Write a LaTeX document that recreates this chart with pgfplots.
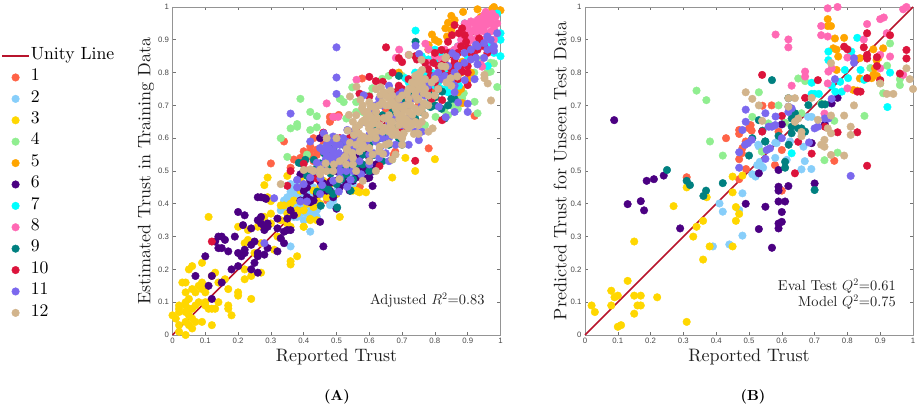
\documentclass[border=0pt]{standalone}
\usepackage{pgfplots}
\usepackage{fontspec}
\pgfplotsset{compat=1.18}
\setmainfont{lmroman10-regular.otf}[BoldFont=lmroman10-bold.otf,ItalicFont=lmroman10-italic.otf]
\newfontfamily\ticksf{Liberation Sans}
\definecolor{c1}{HTML}{FF6347}
\definecolor{c2}{HTML}{87CEFA}
\definecolor{c3}{HTML}{FFD700}
\definecolor{c4}{HTML}{90EE90}
\definecolor{c5}{HTML}{FFA500}
\definecolor{c6}{HTML}{4B0082}
\definecolor{c7}{HTML}{00FFFF}
\definecolor{c8}{HTML}{FF69B4}
\definecolor{c9}{HTML}{008080}
\definecolor{c10}{HTML}{DC143C}
\definecolor{c11}{HTML}{7B68EE}
\definecolor{c12}{HTML}{D2B48C}
\definecolor{unity}{HTML}{B8142C}
\pgfplotsset{
  s/.style={only marks,mark=*,mark size=3.8pt,color=#1,mark options={fill=#1,draw=none}},
  panel/.style={
    scale only axis,width=328pt,height=328pt,anchor=south west,
    xmin=0,xmax=1,ymin=0,ymax=1,clip=false,
    xtick={0,0.1,...,1},ytick={0,0.1,...,1},
    tick align=inside,major tick length=3.3pt,
    axis line style={black!42,line width=0.8pt},
    tick style={black!55,line width=0.6pt},
    /pgf/number format/assume math mode=true,
    tick label style={font=\ticksf\fontsize{7.8}{8}\selectfont,text=black!72},
    label style={font=\fontsize{18}{20}\selectfont,text=black!88},
    xlabel={Reported Trust},
    xlabel style={at={(axis description cs:0.5,-0.032)},anchor=north},
  }
}
\begin{document}
\begin{tikzpicture}
\path[use as bounding box] (0,0) rectangle (920pt,409pt);
\begin{axis}[panel,at={(172.5pt,74pt)},
  ylabel={Estimated Trust in Training Data},
  ylabel style={at={(axis description cs:-0.045,0.5)},anchor=south},
  legend cell align=left,
  legend image code/.code={\draw[mark repeat=2,mark phase=2,#1] plot coordinates {(0pt,0pt)(13.5pt,0pt)(27pt,0pt)};},
  legend style={at={(axis description cs:-0.522,0.883)},anchor=north west,draw=none,fill=none,
    font=\fontsize{17.7}{20}\selectfont,inner sep=0pt,outer sep=0pt,row sep=0pt,
    nodes={inner sep=1pt,text height=13pt,text depth=6.4pt}},
]
\addplot[unity,line width=1.6pt,no marks] coordinates {(0,0)(1,1)};
\addlegendentry{Unity Line}
\addplot[s=c1] coordinates {(.34,.59)(.30,.523)(.37,.535)(.36,.51)(.42,.559)(.42,.545)(.44,.549)(.48,.665)(.48,.65)(.495,.665)(.46,.615)(.921,.668)(.781,.569)(.679,.559)(.578,.782)(.507,.671)(.482,.66)(.472,.41)(.571,.452)(.674,.549)(.43,.53)(.45,.52)(.50,.6)(.53,.55)(.56,.6)(.62,.66)(.65,.69)(.7,.7)(.75,.7)(.8,.75)(.39,.48)(.41,.5)(.47,.5)(.52,.5)(.58,.52)(.6,.55)(.39,.54)(.4,.56)(.42,.575)(.44,.565)(.46,.58)(.48,.56)(.43,.6)};
\addlegendentry{1}
\addplot[s=c2] coordinates {(.36,.437)(.37,.42)(.355,.40)(.365,.38)(.38,.405)(.39,.37)(.405,.396)(.42,.38)(.435,.396)(.44,.38)(.38,.443)(.36,.27)(.42,.315)(.48,.396)(.61,.498)(.37,.45)(.39,.46)(.40,.42)(.42,.43)(.44,.41)(.45,.44)(.38,.36)(.40,.35)(.35,.42)(.345,.39)(.47,.42)(.5,.43)(.52,.46)(.55,.46)(.48,.5)(.58,.5)(.6,.5)(.33,.38)(.34,.41)(.36,.39)(.375,.39)(.39,.4)(.41,.37)(.43,.37)(.44,.36)(.37,.36)(.38,.43)(.36,.46)(.38,.47)(.4,.45)(.43,.45)(.46,.43)(.49,.41)(.5,.44)(.54,.48)(.56,.49)};
\addlegendentry{2}
\addplot[s=c3] coordinates {(0,.06)(.01,.05)(.02,.09)(.02,.08)(.02,.07)(.02,.03)(.02,.01)(.03,.16)(.04,.16)(.04,.13)(.04,.10)(.04,.09)(.04,.07)(.04,.04)(.04,0)(.05,.11)(.05,.08)(.05,.06)(.05,.03)(.06,.08)(.06,.05)(.06,.02)(.06,.14)(.05,.2)(.06,.21)(.07,.13)(.07,.09)(.07,.04)(.08,.15)(.08,.10)(.09,.22)(.09,.16)(.09,.14)(.09,.04)(.10,.13)(.10,.1)(.1,.09)(.11,.08)(.11,.36)(.12,.08)(.12,.03)(.12,.18)(.13,.19)(.13,.08)(.14,.16)(.14,.10)(.16,.17)(.17,.14)(.17,.08)(.17,.09)(.18,.06)(.2,.33)(.2,.12)(.2,.13)(.22,.20)(.22,.17)(.22,.28)(.23,.29)(.23,.32)(.24,.11)(.24,.18)(.25,.25)(.26,.33)(.27,.19)(.27,.28)(.28,.36)(.29,.42)(.3,.34)(.3,.37)(.31,.26)(.32,.3)(.33,.35)(.33,.395)(.34,.395)(.35,.34)(.36,.225)(.36,.215)(.36,.33)(.38,.24)(.38,.37)(.4,.33)(.39,.44)(.41,.4)(.42,.35)(.43,.44)(.44,.35)(.44,.42)(.46,.47)(.47,.42)(.48,.46)(.5,.43)(.51,.36)(.55,.44)(.56,.44)(.57,.435)(.59,.435)(.40,.46)(.39,.475)(.44,.48)(.45,.45)(.36,.4)(.35,.485)(.29,.48)(.28,.457)(.30,.408)(.40,.38)(.38,.38)(.42,.354)(.40,.33)(.67,.48)(.74,.50)(.80,.536)(.71,.54)(.37,.41)(.35,.37)(.43,.39)(.45,.40)};
\addlegendentry{3}
\addplot[s=c4] coordinates {(.39,.72)(.42,.68)(.44,.667)(.38,.643)(.38,.635)(.36,.63)(.42,.625)(.44,.633)(.33,.60)(.35,.543)(.51,.72)(.639,.781)(.659,.79)(.69,.791)(.548,.755)(.609,.752)(.512,.72)(.522,.71)(.99,.756)(.98,.828)(.97,.803)(.93,.676)(.921,.711)(.888,.737)(.883,.722)(.873,.707)(.828,.686)(.802,.665)(.99,.92)(.85,.70)(.48,.6)(.53,.66)(.58,.68)(.67,.535)(.56,.71)(.5,.58)(.6,.73)(.7,.79)(.87,.69)(.88,.72)(.84,.67)(.92,.8)(.96,.8)(.94,.84)(.97,.83)(.46,.57)(.41,.55)(.56,.68)(.62,.75)(.77,.64)};
\addlegendentry{4}
\addplot[s=c5] coordinates {(1,.99)(.93,.993)(.886,.985)(.85,.973)(.84,.952)(.832,.935)(.791,.916)(.811,.894)(.781,.884)(.837,.91)(.884,.833)(.884,.707)(.85,.93)(.853,.859)(.87,.82)(.90,.86)(.69,.80)(.91,.8)(.82,.85)(.8,.83)(.88,.75)(.86,.76)(.88,.8)(.9,.78)(.84,.86)(.78,.87)(.8,.9)(.86,.96)(.9,.88)(.94,.97)(.98,1)(.975,.995)(.87,.74)};
\addlegendentry{5}
\addplot[s=c6] coordinates {(.07,.18)(.10,.24)(.11,.15)(.12,.18)(.12,.11)(.15,.16)(.14,.30)(.15,.30)(.16,.29)(.14,.265)(.15,.265)(.13,.285)(.17,.255)(.19,.30)(.20,.375)(.22,.365)(.215,.335)(.20,.25)(.21,.24)(.22,.25)(.22,.26)(.20,.21)(.18,.20)(.24,.325)(.24,.275)(.25,.285)(.24,.2)(.25,.22)(.26,.19)(.26,.25)(.26,.24)(.26,.42)(.27,.42)(.28,.418)(.285,.415)(.26,.35)(.27,.36)(.27,.34)(.28,.33)(.28,.32)(.29,.34)(.29,.33)(.29,.265)(.28,.245)(.32,.355)(.32,.325)(.32,.255)(.33,.295)(.34,.28)(.34,.315)(.35,.32)(.36,.32)(.35,.355)(.36,.38)(.37,.365)(.45,.345)(.46,.27)(.61,.395)(.61,.454)(.5,.385)(.39,.41)(.41,.42)(.42,.405)(.43,.41)(.41,.45)(.44,.49)(.42,.47)(.39,.49)(.40,.44)(.42,.412)(.45,.468)(.48,.463)(.46,.463)(.583,.478)(.594,.478)(.563,.513)(.558,.498)(.59,.515)(.51,.45)(.53,.46)(.5,.5)(.52,.53)(.55,.535)(.57,.54)(.45,.6)(.46,.61)(.54,.44)(.49,.42)(.47,.44)(.44,.43)(.46,.44)(.48,.44)(.5,.47)(.52,.48)(.53,.5)(.55,.47)(.56,.48)(.58,.5)(.6,.48)(.61,.5)(.54,.52)(.5,.52)(.48,.5)(.62,.52)(.47,.52)(.51,.54)(.56,.55)(.59,.56)(.6,.54)};
\addlegendentry{6}
\addplot[s=c7] coordinates {(.741,.928)(1,.92)(1,.90)(1,.85)(.961,.82)(.99,.98)(.891,.95)(.822,.857)(.76,.85)(.71,.783)(.868,.79)(.873,.76)(.74,.8)(.81,.77)(.84,.74)(.78,.84)(.8,.87)(.83,.8)(.79,.8)(.81,.83)(.82,.75)(.84,.76)(.86,.82)(.74,.78)(.72,.77)(.77,.79)(.8,.76)(.87,.88)(.9,.85)(.97,.88)(.98,.86)};
\addlegendentry{7}
\addplot[s=c8] coordinates {(.891,.95)(.891,.935)(.91,.956)(.934,.963)(.944,.95)(.96,.973)(.97,.968)(.96,.947)(.94,.942)(.92,.93)(.91,.925)(.98,.935)(.97,.925)(.95,.925)(.93,.92)(.96,.908)(.94,.90)(.98,.90)(.92,.90)(.90,.89)(.87,.88)(.853,.865)(.84,.86)(.691,.87)(.681,.845)(.72,.854)(.771,.888)(.781,.871)(.561,.778)(.47,.706)(.49,.665)(.505,.665)(.944,.818)(.94,.825)(.95,.94)(.93,.94)(.95,.96)(.965,.96)(.905,.915)(.975,.95)(.935,.93)(.89,.91)(.93,.96)(.95,.975)(.975,.98)(.985,.97)(.99,.95)(.955,.985)(.9,.94)(.92,.95)(.91,.9)(.88,.9)(.86,.87)(.83,.87)(.82,.84)(.8,.85)(.78,.83)};
\addlegendentry{8}
\addplot[s=c9] coordinates {(.395,.523)(.405,.534)(.385,.525)(.431,.534)(.462,.554)(.45,.523)(.41,.485)(.441,.437)(.452,.394)(.502,.389)(.49,.43)(.476,.443)(.482,.492)(.512,.508)(.543,.508)(.551,.475)(.515,.475)(.543,.44)(.46,.45)(.741,.894)(.69,.79)(.69,.752)(.822,.742)(.802,.725)(.787,.695)(.785,.724)(.85,.72)(.614,.549)(.62,.64)(.66,.62)(.68,.63)(.7,.58)(.65,.6)(.73,.66)(.78,.74)(.8,.7)(.83,.66)(.55,.56)(.58,.52)(.6,.5)(.52,.49)(.64,.53)(.69,.69)(.75,.74)(.42,.5)(.44,.51)(.46,.52)(.48,.52)(.5,.53)(.47,.55)(.49,.57)(.52,.58)(.54,.6)(.5,.46)(.53,.49)(.56,.52)(.58,.55)(.6,.58)(.63,.6)(.66,.58)(.69,.6)(.71,.63)(.74,.66)(.76,.68)(.78,.7)(.82,.69)(.84,.7)(.72,.74)(.7,.72)(.67,.68)(.64,.67)(.62,.62)(.86,.72)};
\addlegendentry{9}
\addplot[s=c10] coordinates {(.12,.285)(.651,.877)(.69,.844)(.70,.832)(.671,.80)(.60,.787)(.62,.774)(.641,.772)(.86,.945)(.852,.914)(.873,.92)(.883,.935)(.891,.914)(.84,.894)(.82,.869)(.74,.85)(.745,.84)(.795,.83)(.81,.82)(.825,.825)(.895,.894)(.90,.874)(.935,.904)(.94,.89)(.88,.88)(.87,.86)(.883,.803)(.90,.762)(.822,.716)(.822,.655)(.74,.531)(.631,.515)(.76,.772)(.787,.79)(.78,.75)(.60,.727)(.57,.736)(.67,.71)(.66,.70)(.36,.50)(.35,.455)(.40,.522)(.44,.477)(.46,.617)(.51,.60)(.69,.76)(.72,.72)(.76,.7)(.79,.72)(.64,.66)(.7,.63)(.86,.83)(.9,.82)(.92,.85)(.96,.86)(.58,.6)(.54,.6)(.56,.63)(.6,.64)(.62,.68)(.64,.7)(.66,.73)(.68,.74)(.7,.75)(.72,.78)(.74,.75)(.76,.75)(.8,.77)(.82,.8)(.84,.79)(.83,.83)(.85,.81)(.86,.84)(.88,.82)(.87,.78)(.9,.8)(.91,.86)(.93,.87)(.95,.88)(.85,.77)(.78,.81)(.77,.83)(.8,.86)(.84,.86)(.81,.75)(.66,.65)};
\addlegendentry{10}
\addplot[s=c11] coordinates {(.50,.877)(.50,.785)(.50,.735)(.36,.675)(.42,.59)(.49,.605)(.38,.45)(.31,.417)(.28,.28)(.741,.882)(.752,.857)(.853,.859)(.865,.85)(.89,.86)(.925,.885)(.96,.91)(.99,.92)(.96,.87)(.98,.88)(.98,.867)(.95,.845)(.925,.845)(.91,.84)(.93,.825)(.86,.80)(.86,.79)(.891,.777)(.921,.78)(.86,.76)(.86,.74)(.90,.705)(.86,.68)(.90,.68)(.871,.709)(.833,.664)(.812,.696)(.751,.594)(.69,.706)(.69,.732)(.63,.72)(.583,.731)(.685,.727)(.70,.74)(.461,.615)(.477,.569)(.497,.579)(.51,.58)(.47,.55)(.487,.544)(.507,.555)(.533,.56)(.594,.574)(.614,.554)(.65,.554)(.632,.57)(.451,.478)(.456,.457)(.51,.5)(.543,.473)(.507,.437)(.533,.452)(.39,.407)(.41,.407)(.38,.473)(.467,.535)(.44,.525)(.533,.625)(.548,.564)(.56,.564)(.573,.59)(.584,.65)(.5,.53)(.52,.6)(.55,.62)(.58,.6)(.6,.61)(.62,.59)(.66,.6)(.68,.58)(.7,.64)(.72,.66)(.76,.7)(.78,.76)(.82,.78)(.84,.82)(.8,.79)(.74,.76)(.7,.66)(.76,.62)(.74,.62)(.72,.58)(.66,.53)(.63,.54)(.6,.52)(.575,.49)(.54,.54)(.46,.52)(.48,.53)(.49,.56)(.5,.54)(.51,.52)(.52,.545)(.53,.57)(.54,.58)(.55,.59)(.56,.6)(.46,.56)(.47,.58)(.45,.57)(.48,.59)(.5,.6)(.53,.59)(.55,.56)(.57,.56)(.59,.59)(.61,.62)(.63,.62)(.64,.6)(.66,.65)(.68,.66)(.7,.69)(.72,.7)(.73,.72)(.75,.74)(.77,.73)(.79,.77)(.81,.8)(.83,.79)(.85,.77)(.87,.82)(.89,.83)(.91,.87)(.93,.88)(.95,.89)(.97,.9)(.62,.7)(.6,.68)(.64,.7)(.66,.76)(.44,.5)(.42,.48)(.4,.46)(.45,.43)(.49,.47)(.51,.48)(.53,.5)(.55,.5)(.57,.53)(.6,.55)};
\addlegendentry{11}
\addplot[s=c12] coordinates {(.584,.681)(.578,.691)(.604,.696)(.615,.696)(.634,.732)(.645,.74)(.659,.722)(.665,.745)(.685,.676)(.705,.686)(.715,.737)(.695,.696)(.726,.701)(.741,.767)(.751,.778)(.761,.762)(.766,.737)(.746,.793)(.761,.808)(.741,.742)(.746,.717)(.766,.707)(.731,.671)(.711,.659)(.691,.659)(.665,.649)(.644,.661)(.624,.661)(.604,.64)(.615,.645)(.584,.654)(.553,.61)(.568,.615)(.558,.63)(.533,.564)(.58,.605)(.599,.63)(.644,.632)(.665,.64)(.693,.607)(.705,.615)(.72,.63)(.746,.615)(.793,.63)(.541,.727)(.561,.757)(.832,.818)(.848,.783)(.834,.847)(.868,.788)(.33,.46)(.451,.505)(.40,.503)(.42,.505)(.467,.523)(.492,.52)(.509,.475)(.523,.539)(.531,.567)(.541,.586)(.573,.594)(.59,.6)(.612,.615)(.632,.574)(.642,.552)(.66,.584)(.67,.61)(.534,.623)(.527,.544)(.548,.555)(.58,.569)(.578,.65)(.594,.68)(.594,.645)(.614,.615)(.62,.62)(.649,.63)(.67,.63)(.68,.61)(.70,.606)(.736,.613)(.75,.613)(.67,.535)(.538,.671)(.573,.717)(.62,.75)(.635,.755)(.65,.73)(.67,.73)(.721,.854)(.74,.79)(.755,.8)(.759,.839)(.832,.844)(.835,.77)(.85,.76)(.951,.793)(.951,.783)(.961,.767)(.971,.715)(.72,.68)(.74,.69)(.75,.68)(.7,.67)(.68,.69)(.66,.67)(.72,.72)(.73,.75)(.75,.72)(.76,.69)(.78,.7)(.8,.73)(.81,.75)(.77,.78)(.69,.64)(.65,.66)(.61,.66)(.63,.64)(.605,.62)(.56,.58)(.55,.52)(.6,.57)(.56,.5)(.58,.47)(.62,.5)(.5,.6)(.47,.6)(.73,.64)(.59,.66)(.6,.67)(.62,.68)(.63,.7)(.64,.71)(.66,.7)(.67,.71)(.68,.7)(.69,.72)(.7,.73)(.71,.7)(.72,.75)(.73,.77)(.74,.73)(.75,.75)(.76,.78)(.77,.75)(.78,.73)(.79,.77)(.8,.78)(.82,.82)(.7,.65)(.71,.64)(.72,.65)(.74,.65)(.75,.64)(.67,.65)(.68,.62)(.66,.62)(.64,.62)(.62,.6)(.6,.6)(.58,.58)(.57,.56)(.55,.54)(.53,.52)(.51,.53)(.49,.5)(.47,.5)(.45,.49)(.43,.5)(.6,.53)(.61,.55)(.63,.56)(.68,.55)(.65,.58)(.7,.58)(.7,.6)(.78,.62)(.76,.65)(.77,.67)(.65,.7)(.55,.65)(.57,.64)(.56,.67)(.58,.7)(.6,.71)};
\addlegendentry{12}
\node[anchor=east,font=\fontsize{14.4}{16}\selectfont,text=black!88] at (axis cs:0.962,0.105) {Adjusted $R^2$=0.83};
\end{axis}
\begin{axis}[panel,at={(585pt,74pt)},
  ylabel={Predicted Trust for Unseen Test Data},
  ylabel style={at={(axis description cs:-0.045,0.5)},anchor=south},
]
\addplot[unity,line width=1.6pt,no marks] coordinates {(0,0)(1,1)};
\addplot[s=c1] coordinates {(.31,.481)(.43,.60)(.47,.625)(.47,.613)(.505,.64)(.50,.63)(.508,.623)(.478,.554)(.47,.536)(.491,.506)(.47,.475)(.579,.518)(.60,.564)(.59,.62)(.541,.699)(.569,.70)(.60,.44)(.76,.531)(.49,.59)(.48,.57)};
\addplot[s=c2] coordinates {(.41,.401)(.42,.376)(.48,.432)(.47,.381)(.48,.303)(.44,.276)(.39,.27)(.52,.483)(.525,.518)(.54,.513)(.533,.528)(.543,.51)(.518,.487)(.58,.54)(.615,.534)(.66,.505)(.67,.53)(.69,.506)(.528,.58)(.58,.586)(.53,.575)(.68,.665)(.691,.665)(.584,.585)(.666,.574)(.625,.59)(.51,.49)};
\addplot[s=c3] coordinates {(.02,.09)(.03,.07)(.08,.135)(.08,.09)(.09,.115)(.10,.12)(.10,.025)(.11,.03)(.13,.165)(.15,.285)(.15,.12)(.15,.065)(.16,.09)(.17,.12)(.17,.09)(.22,.115)(.27,.393)(.31,.04)(.31,.45)(.33,.30)(.34,.33)(.36,.348)(.36,.23)(.371,.42)(.38,.27)(.45,.27)(.45,.435)(.46,.39)(.46,.348)(.47,.369)(.45,.483)(.48,.486)};
\addplot[s=c4] coordinates {(.34,.745)(.37,.716)(.381,.59)(.42,.547)(.53,.74)(.59,.70)(.51,.665)(.559,.645)(.539,.559)(.61,.647)(.65,.782)(.671,.774)(.66,.676)(.76,.653)(.73,.533)(.77,.556)(.852,.668)(.87,.814)(.921,.821)(.96,.78)(.96,.762)(.909,.737)(.90,.767)(.93,.889)(.72,.706)};
\addplot[s=c5] coordinates {(.74,.963)(.74,.942)(.75,.942)(.762,.904)(.79,.906)(.757,.874)(.767,.87)(.772,.849)(.767,.808)(.838,.844)(.879,.871)(.909,.874)(.889,.838)(.884,.813)(.879,.793)(.86,.783)(.874,.783)(.89,.79)(.838,.782)(.818,.747)(.895,.845)(.83,.745)};
\addplot[s=c6] coordinates {(.089,.655)(.188,.47)(.21,.475)(.24,.486)(.13,.399)(.17,.408)(.18,.38)(.29,.325)(.49,.40)(.53,.493)(.59,.503)(.59,.452)(.59,.44)(.62,.454)(.59,.407)(.61,.407)(.60,.642)(.70,.462)(.53,.323)(.55,.391)(.57,.266)(.60,.375)(.59,.34)(.60,.345)(.59,.325)(.691,.585)(.752,.706)(.77,.723)(.731,.642)};
\addplot[s=c7] coordinates {(.742,.864)(.742,.838)(.83,.906)(.812,.864)(.792,.808)(.802,.783)(.84,.808)(.851,.778)(.93,.80)(.922,.695)(.691,.769)(.691,.735)(.70,.735)(.713,.735)(.778,.772)(.783,.742)(.763,.742)(.752,.76)(.63,.554)};
\addplot[s=c8] coordinates {(.74,.996)(.77,1)(.72,.942)(.72,.914)(.74,.91)(.581,.916)(.62,.901)(.62,.877)(.671,.803)(.671,.788)(.63,.76)(.742,.803)(.752,.813)(.74,.767)(.80,.846)(.80,.752)(.85,.901)(.86,.948)(.90,.963)(.911,.968)(.97,.993)(.98,1)(.92,.92)(.90,.854)(.93,.849)(.90,.813)(.97,.793)(.73,.675)};
\addplot[s=c9] coordinates {(.25,.503)(.31,.47)(.32,.457)(.369,.44)(.361,.424)(.42,.463)(.50,.547)(.55,.59)(.541,.623)(.53,.655)(.59,.607)(.621,.58)(.63,.615)(.63,.635)(.61,.528)(.61,.51)(.70,.442)(.57,.777)(.62,.722)(.681,.701)(.722,.703)(.732,.703)(.64,.676)(.63,.66)(.549,.59)(.671,.62)(.65,.63)(.66,.63)(.51,.6)};
\addplot[s=c10] coordinates {(.54,.793)(.71,.777)(.671,.723)(.86,.92)(.93,.914)(.85,.877)(.79,.879)(.80,.871)(.86,.854)(.86,.843)(.89,.847)(.98,.869)(.98,.843)(.89,.82)(.96,.797)(.90,.777)(.86,.783)(.83,.742)(.84,.742)(.77,.618)(.83,.618)(.86,.516)(.691,.553)(.65,.589)(.60,.668)(.64,.493)(.731,.635)(.54,.62)};
\addplot[s=c11] coordinates {(.49,.687)(.55,.676)(.49,.65)(.48,.625)(.581,.666)(.62,.696)(.63,.691)(.62,.68)(.56,.635)(.58,.64)(.57,.635)(.497,.585)(.508,.595)(.488,.58)(.47,.557)(.47,.51)(.55,.537)(.554,.564)(.564,.569)(.60,.60)(.683,.587)(.70,.63)(.71,.635)(.742,.66)(.731,.66)(.762,.78)(.82,.844)(.82,.83)(.752,.72)(.81,.485)};
\addplot[s=c12] coordinates {(.49,.74)(.51,.72)(.53,.70)(.62,.722)(.64,.722)(.691,.723)(.75,.829)(.98,.813)(.99,.78)(1,.75)(.94,.735)(.92,.735)(.90,.767)(.82,.70)(.79,.669)(.81,.635)(.81,.61)(.75,.669)(.74,.63)(.75,.615)(.73,.595)(.73,.574)(.75,.549)(.79,.547)(.71,.656)(.65,.66)(.64,.65)(.66,.619)(.54,.653)(.62,.696)(.66,.606)(.72,.58)};
\node[anchor=east,align=right,font=\fontsize{14.4}{16}\selectfont,text=black!88] at (axis cs:0.958,0.125) {Eval Test $Q^2$=0.61\\Model $Q^2$=0.75};
\end{axis}
\node[font=\bfseries\fontsize{14.5}{16}\selectfont] at (337pt,12pt) {(A)};
\node[font=\bfseries\fontsize{14.5}{16}\selectfont] at (753pt,12pt) {(B)};
\end{tikzpicture}
\end{document}
